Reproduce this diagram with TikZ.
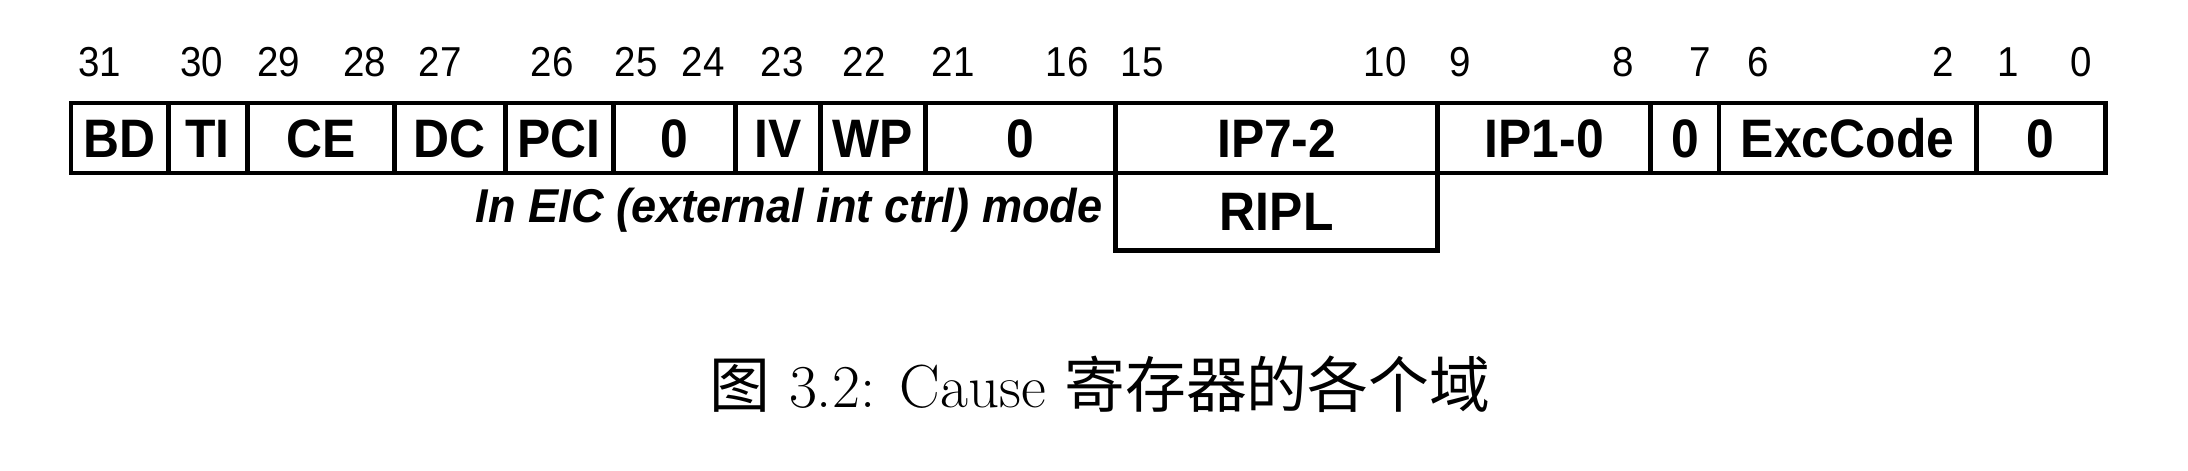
\documentclass[tikz,border=0pt]{standalone}
\usepackage{fontspec}
\usepackage{tikz}
\usetikzlibrary{positioning}
\newfontfamily\regsans[FakeStretch=0.92]{Liberation Sans}
\newfontfamily\eicsans[FakeStretch=0.95]{Liberation Sans}
\newfontfamily\cjk{Noto Sans CJK SC}
\newcommand{\fieldfont}{\regsans\bfseries\fontsize{15.4}{18}\selectfont}
\newcommand{\bitfont}{\regsans\fontsize{11.9}{14}\selectfont}
\newcommand{\eicfont}{\eicsans\bfseries\itshape\fontsize{13.5}{16}\selectfont}

\begin{document}
\begin{tikzpicture}[
  x=0.01cm, y=-0.01cm,
  node distance=0pt,
  field/.style={draw,line width=1.4pt,outer sep=0pt,inner sep=0pt,
    minimum height=0.7cm,text height=11pt,text depth=0pt,font=\fieldfont},
  bitno/.style={anchor=base,inner sep=0pt,font=\bitfont}
]
\useasboundingbox (0,0) rectangle (2188,471);
% register fields, bit 31 down to bit 0
\node[field,minimum width=0.97cm,anchor=north west] (bd) at (71,103) {BD};
\node[field,minimum width=0.79cm,right=of bd] (ti) {TI};
\node[field,minimum width=1.47cm,right=of ti] (ce) {CE};
\node[field,minimum width=1.11cm,right=of ce] (dc) {DC};
\node[field,minimum width=1.08cm,right=of dc] (pci) {PCI};
\node[field,minimum width=1.22cm,right=of pci] (zeroa) {0};
\node[field,minimum width=0.85cm,right=of zeroa] (iv) {IV};
\node[field,minimum width=1.05cm,right=of iv] (wp) {WP};
\node[field,minimum width=1.90cm,right=of wp] (zerob) {0};
\node[field,minimum width=3.22cm,right=of zerob] (ip72) {IP7-2};
\node[field,minimum width=2.13cm,right=of ip72] (ip10) {IP1-0};
\node[field,minimum width=0.68cm,right=of ip10] (zeroc) {0};
\node[field,minimum width=2.57cm,right=of zeroc] (exc) {ExcCode};
\node[field,minimum width=1.29cm,right=of exc] (zerod) {0};
% EIC mode view of IP7-2
\node[field,minimum width=3.22cm,minimum height=0.77cm,below=of ip72] (ripl) {RIPL};
\node[anchor=base east,inner sep=0pt,font=\eicfont] (eic) at (1103,223)
  {In EIC (external int ctrl) mode};
% bit numbers
\foreach \x/\b in {100/31,202/30,279/29,365/28,440/27,552/26,636/25,703/24,
  782/23,864/22,953/21,1067/16,1142/15,1385/10,1460/9,1623/8,1700/7,
  1758/6,1943/2,2008/1,2081/0}
  \node[bitno] (bit\b) at (\x,77) {\b};
\node[anchor=base,inner sep=0pt,font=\fontsize{17.3}{20}\selectfont] (caption)
  at (1100,408) {{\cjk 图} 3.2: Cause {\cjk 寄存器的各个域}};
\end{tikzpicture}
\end{document}
